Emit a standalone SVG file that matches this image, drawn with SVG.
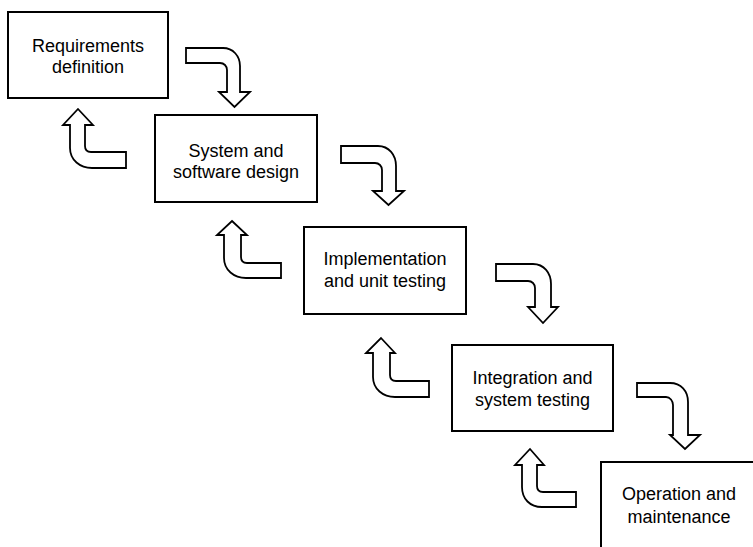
<svg xmlns="http://www.w3.org/2000/svg" width="753" height="547" viewBox="0 0 753 547">
<style>
.box{fill:#fff;stroke:#000;stroke-width:2}
.arr{fill:#fff;stroke:#000;stroke-width:1.8;stroke-linejoin:miter}
text{font-family:"Liberation Sans",Arial,sans-serif;font-size:18px;fill:#000;text-anchor:middle}
</style>
<rect width="753" height="547" fill="#fff"/>
<g id="connectors">
<path class="arr" d="M186,48 H223 C233,48 240,56 240,66 V92 H250 L234.5,107 L219,92 H227 V70 C227,66 224,63 220,63 H186 Z"/>
<path class="arr" d="M341,146 H378 C389,146 396,155 396,166 V191 H404 L388.5,205 L373,191 H382 V170 C382,166 379,163 375,163 H341 Z"/>
<path class="arr" d="M496,264 H533 C544,264 551,273 551,284 V307 H558 L543,323 L528,307 H535 V288 C535,284 532,281 528,281 H496 Z"/>
<path class="arr" d="M637,383 H670 C681,383 688,391 688,402 V435 H700 L685,449 L670,435 H673 V405 C673,401 670,397 666,397 H637 Z"/>
<path class="arr" d="M78,109 L93,125 H85 V146 C85,150 87,152 91,152 H126 V168 H92 C80,168 70,160 70,148 V125 H63 Z"/>
<path class="arr" d="M232,221 L247,235 H241 V257 C241,261 243,263 247,263 H281 V278 H246 C234,278 224,270 224,258 V235 H217 Z"/>
<path class="arr" d="M381,338 L395,353 H390 V375 C390,379 392,381 396,381 H429 V397 H395 C383,397 373,389 373,377 V353 H366 Z"/>
<path class="arr" d="M530,449 L544,465 H537 V486 C537,490 539,492 543,492 H576 V507 H542 C530,507 522,499 522,487 V465 H515 Z"/>
</g>
<g id="n1">
<rect class="box" x="8" y="12" width="160" height="86"/>
<text x="88" y="52">Requirements</text>
<text x="88" y="73">definition</text>
</g>
<g id="n2">
<rect class="box" x="155" y="115" width="162" height="87"/>
<text x="236" y="157">System and</text>
<text x="236" y="178">software design</text>
</g>
<g id="n3">
<rect class="box" x="304" y="227" width="162" height="87"/>
<text x="385" y="265">Implementation</text>
<text x="385" y="287">and unit testing</text>
</g>
<g id="n4">
<rect class="box" x="452" y="345" width="161" height="86"/>
<text x="532.5" y="384">Integration and</text>
<text x="532.5" y="406">system testing</text>
</g>
<g id="n5">
<rect class="box" x="601" y="462" width="160" height="88"/>
<text x="679" y="500">Operation and</text>
<text x="679" y="523">maintenance</text>
</g>
</svg>
